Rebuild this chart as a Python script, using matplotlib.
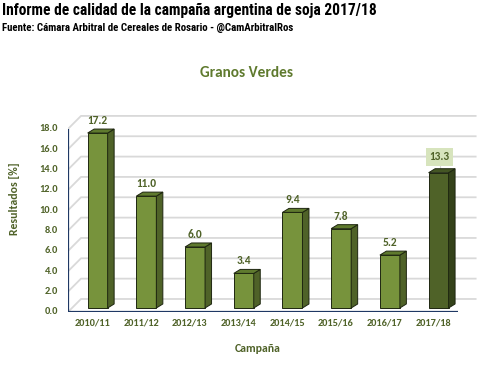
import matplotlib.pyplot as plt
from matplotlib.patches import Polygon

# Datos del gráfico
campanias = ["2010/11", "2011/12", "2012/13", "2013/14", "2014/15", "2015/16", "2016/17", "2017/18"]
granos_verdes = [17.2, 11.0, 6.0, 3.4, 9.4, 7.8, 5.2, 13.3]
ticks_y = [0, 2, 4, 6, 8, 10, 12, 14, 16, 18]

VERDE_TXT = "#4f6228"
AZUL_EJE = "#1f3864"
GRIS = "#d9d9d9"
FUENTE = "Carlito"
ANGOSTA = ["Roboto Condensed", "Asap Condensed", "DejaVu Sans"]

fig = plt.figure(figsize=(5, 3.74), dpi=100)
ax = fig.add_axes([0.136, 0.1658, 0.828, 0.5439])
ax.set_xlim(-0.5, 8.0)
ax.set_ylim(0, 20)
ax.axis("off")

# desplazamientos "3D" en unidades de datos
px_x, px_y = 48.75, 10.17
dxw, dyw = 13 / px_x, 13 / px_y      # pared del fondo
offx, offy = 5.3 / px_x, 4 / px_y    # posición de la barra dentro del piso
ancho = 20 / px_x
prof_x, prof_y = 6.5 / px_x, 4 / px_y
x_fin = 7.5 + 18 / px_x

# grilla en la pared del fondo
for v in ticks_y:
    ax.plot([-0.5, -0.5 + dxw, x_fin], [v, v + dyw, v + dyw], color=GRIS, lw=1.3, zorder=1)
    ax.text(-0.5 - 10 / px_x, v, f"{v:.1f}", ha="right", va="center",
            fontsize=7.5, fontweight="bold", color=VERDE_TXT, family=FUENTE)

# barras
for i, (c, val) in enumerate(zip(campanias, granos_verdes)):
    ultima = i == len(campanias) - 1
    frente = "#4f6228" if ultima else "#77933c"
    techo = "#445624" if ultima else "#5f7a2e"
    lado = "#34421a" if ultima else "#4f6228"
    x0 = i - ancho / 2 + offx
    x1 = x0 + ancho
    y0 = offy
    y1 = val + offy
    ax.bar(x0, val, width=ancho, bottom=y0, align="edge", color=frente,
           edgecolor="#1e2610", linewidth=0.7, zorder=3)
    ax.add_patch(Polygon([(x1, y0), (x1 + prof_x, y0 + prof_y), (x1 + prof_x, y1 + prof_y), (x1, y1)],
                         closed=True, facecolor=lado, edgecolor="#1e2610", lw=0.7, zorder=3))
    ax.add_patch(Polygon([(x0, y1), (x1, y1), (x1 + prof_x, y1 + prof_y), (x0 + prof_x, y1 + prof_y)],
                         closed=True, facecolor=techo, edgecolor="#1e2610", lw=0.7, zorder=3))
    xc = (x0 + x1) / 2
    if ultima:
        ax.plot([xc + 1 / px_x, xc + 1 / px_x], [y1 + prof_y, y1 + 10 / px_y], color="#d9d9d9", lw=0.8, zorder=2)
        ax.text(xc + 1 / px_x, y1 + 16 / px_y, f"{val:.1f}", ha="center", va="center",
                fontsize=8.2, fontweight="bold", color=VERDE_TXT, family=FUENTE, zorder=4,
                bbox=dict(boxstyle="square,pad=0.3", facecolor="#d7e4bd", edgecolor="none"))
    else:
        ax.text(xc, y1 + 7 / px_y, f"{val:.1f}", ha="center", va="bottom",
                fontsize=8.2, fontweight="bold", color=VERDE_TXT, family=FUENTE, zorder=4)
    ax.text(i, -11 / px_y, c, ha="center", va="center", fontsize=7.4,
            fontweight="bold", color=VERDE_TXT, family=FUENTE)

# ejes frontales
ax.plot([-0.5, -0.5], [0, 18], color=AZUL_EJE, lw=1.6, zorder=5, solid_capstyle="butt")
ax.plot([-0.5, 7.5], [0, 0], color=AZUL_EJE, lw=1.6, zorder=5, solid_capstyle="butt")

# títulos
fig.text(0.004, 0.972, "Informe de calidad de la campaña argentina de soja 2017/18", ha="left", va="center",
         fontsize=11.2, fontweight="bold", family=ANGOSTA)
fig.text(0.004, 0.925, "Fuente: Cámara Arbitral de Cereales de Rosario - @CamArbitralRos", ha="left", va="center",
         fontsize=7.8, fontweight="bold", family=ANGOSTA)
fig.text(0.492, 0.805, "Granos Verdes", ha="center", va="center", fontsize=11,
         fontweight="bold", color="#5f7a2e", family=FUENTE)
fig.text(0.03, 0.47, "Resultados [%]", ha="center", va="center", rotation=90, fontsize=8.5,
         fontweight="bold", color=VERDE_TXT, family=FUENTE)
fig.text(0.516, 0.068, "Campaña", ha="center", va="center", fontsize=8.5,
         fontweight="bold", color=VERDE_TXT, family=FUENTE)

fig.savefig("out.png", dpi=100)
